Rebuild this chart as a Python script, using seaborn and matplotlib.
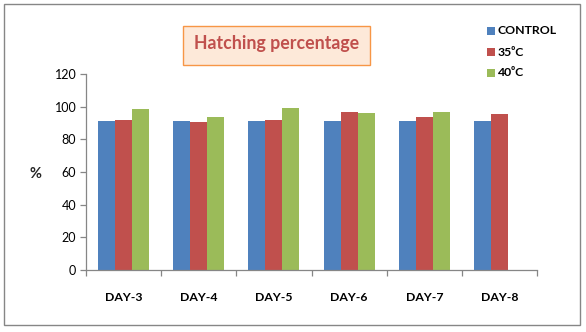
import matplotlib
matplotlib.use("Agg")
import matplotlib.pyplot as plt
import seaborn as sns
import pandas as pd
import numpy as np
from matplotlib.patches import Rectangle

days = ["DAY-3", "DAY-4", "DAY-5", "DAY-6", "DAY-7", "DAY-8"]
series = ["CONTROL", "35\u2070C", "40\u2070C"]
control = [91.3, 91.3, 91.3, 91.3, 91.3, 91.3]
t35 = [92.0, 90.7, 92.0, 96.9, 93.8, 95.7]
t40 = [98.7, 93.8, 99.3, 96.3, 96.9, np.nan]
colors = ["#4f81bd", "#c0504d", "#9bbb59"]
yticks = [0, 20, 40, 60, 80, 100, 120]

sns.set_theme(style="white")
plt.rcParams["font.family"] = ["Lato", "DejaVu Sans"]

rows = []
for name, vals in zip(series, [control, t35, t40]):
    for d, v in zip(days, vals):
        rows.append({"day": d, "series": name, "value": v})
df = pd.DataFrame(rows)

fig = plt.figure(figsize=(5.86, 3.32), dpi=100)
fig.patch.set_facecolor("white")
ax = fig.add_axes([0.1468, 0.1877, 0.9164 - 0.1468, 0.776 - 0.1877])

sns.barplot(data=df, x="day", y="value", hue="series", hue_order=series,
            order=days, palette=colors, width=0.68, saturation=1,
            edgecolor="none", linewidth=0, ax=ax, legend=False)

ax.set_ylim(0, 120)
ax.set_xlim(-0.5, len(days) - 0.5)
ax.set_yticks(yticks)
ax.set_yticklabels([str(t) for t in yticks], fontsize=9, color="black")
ax.set_xticks(range(len(days)))
ax.set_xticklabels(days, fontsize=8.8, fontweight="bold", color="black")
ax.set_xlabel("")
ax.set_ylabel("")
for s in ["top", "right"]:
    ax.spines[s].set_visible(False)
for s in ["left", "bottom"]:
    ax.spines[s].set_color("#868686")
    ax.spines[s].set_linewidth(0.9)

ax.tick_params(axis="y", which="major", left=True, length=4, width=0.9,
               color="#868686", pad=3)
ax.tick_params(axis="x", which="major", bottom=False, pad=10)
ax.set_xticks(np.arange(-0.5, len(days), 1.0), minor=True)
ax.tick_params(axis="x", which="minor", bottom=True, length=4, width=0.9,
               color="#868686")

fig.text(35 / 586, 1 - 174 / 332, "%", fontsize=10.5, fontweight="bold",
         ha="center", va="center")

# title box
fig.patches.append(Rectangle((183 / 586, 1 - 65 / 332), (370 - 183) / 586,
                             (65 - 26) / 332, transform=fig.transFigure,
                             facecolor="#fde9d9", edgecolor="#f79646",
                             linewidth=1.0, zorder=1))
fig.text((183 + 370) / 2 / 586, 1 - 44 / 332, "Hatching percentage",
         fontsize=12.8, fontweight="bold", color="#c0504d",
         ha="center", va="center", zorder=2)

# legend
ys = [31, 52, 73]
for name, c, yy in zip(series, colors, ys):
    fig.patches.append(Rectangle((487 / 586, 1 - (yy + 4) / 332), 8 / 586,
                                 8 / 332, transform=fig.transFigure,
                                 facecolor=c, edgecolor="none"))
    fig.text(498 / 586, 1 - yy / 332, name, fontsize=8.8, fontweight="bold",
             ha="left", va="center", color="black")

# outer border
fig.patches.append(Rectangle((4 / 586, 1 - 325 / 332), (580 - 4) / 586,
                             (325 - 4) / 332, transform=fig.transFigure,
                             facecolor="none", edgecolor="#868686",
                             linewidth=1.0))

fig.savefig("out.png", dpi=100)
